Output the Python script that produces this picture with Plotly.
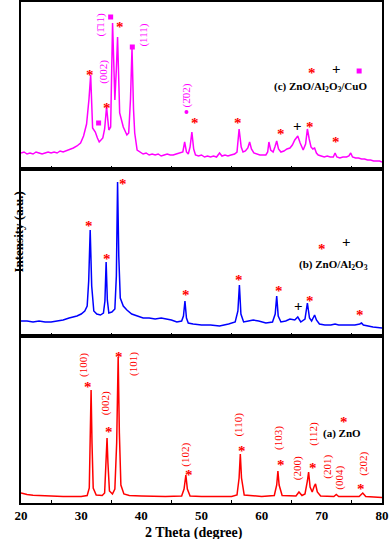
import plotly.graph_objects as go
from plotly.subplots import make_subplots

SERIF = "Liberation Serif, Times New Roman, serif"
RED = "#ff0000"
BLUE = "#0000ff"
PINK = "#ff00ff"

# (c) ZnO/Al2O3/CuO  -- 2theta and intensity (a.u., panel units 0-167)
tt_c = [20.0, 20.5, 21.0, 21.5, 22.0, 22.5, 23.0, 23.5, 24.0, 24.5, 25.0, 25.5, 26.0, 26.5,
        27.0, 27.5, 28.0, 28.7, 29.3, 29.9, 30.4, 30.9, 31.3, 31.58, 31.9, 32.35, 32.7, 33.0,
        33.6, 33.9, 34.22, 34.6, 34.9, 35.05, 35.22, 35.4, 35.6, 35.85, 36.05, 36.4, 37.0, 37.6,
        37.9, 38.2, 38.45, 38.7, 38.9, 39.3, 39.8, 40.3, 40.8, 41.3, 41.8, 42.3, 42.8, 43.3,
        43.8, 44.3, 44.8, 45.3, 45.8, 46.4, 46.9, 47.2, 47.5, 47.8, 48.1, 48.4, 48.7, 49.0,
        49.5, 50.0, 50.5, 51.0, 51.5, 52.0, 52.5, 53.0, 53.4, 53.9, 54.4, 54.9, 55.5, 55.9,
        56.25, 56.6, 56.9, 57.3, 57.7, 58.0, 58.3, 58.7, 59.2, 59.7, 60.2, 60.7, 61.0, 61.2,
        61.5, 61.9, 62.2, 62.5, 62.8, 63.2, 63.7, 64.2, 64.7, 65.1, 65.5, 66.0, 66.4, 66.9,
        67.3, 67.6, 67.9, 68.2, 68.5, 68.8, 69.1, 69.4, 69.9, 70.4, 70.9, 71.4, 71.9, 72.2,
        72.5, 73.0, 73.5, 74.1, 74.5, 74.8, 75.1, 75.6, 76.1, 76.6, 77.1, 77.6, 78.1, 78.6,
        79.1, 79.6, 80.0]
int_c = [16, 17, 15, 16, 15, 17, 16, 15, 16, 17, 16, 17, 16, 18, 17, 18, 19, 21, 23, 26, 33,
         45, 70, 94, 41, 37, 31, 27, 31, 40, 62, 39, 42, 95, 146, 110, 69, 100, 132, 56, 42,
         34, 36, 70, 121, 60, 36, 19, 17, 15, 16, 14, 15, 14, 15, 13, 14, 15, 14, 14, 15, 16,
         17, 27, 17, 15, 22, 37, 20, 14, 13, 14, 12, 13, 12, 13, 12, 16, 13, 14, 13, 14, 15,
         17, 40, 22, 17, 18, 21, 27, 20, 16, 15, 14, 14, 14, 17, 27, 19, 17, 22, 28, 20, 17,
         18, 20, 21, 24, 29, 33, 26, 19, 25, 40, 30, 22, 20, 21, 16, 14, 13, 12, 13, 12, 12,
         16, 12, 11, 12, 12, 13, 16, 12, 11, 11, 10, 10, 9, 9, 8, 8, 8, 7]

# (b) ZnO/Al2O3
tt_b = [20.0, 21.0, 22.0, 23.0, 24.0, 25.0, 26.0, 27.0, 28.0, 29.3, 30.0, 30.6, 31.0, 31.25,
        31.5, 31.75, 32.1, 32.6, 33.2, 33.7, 33.95, 34.15, 34.35, 34.6, 35.1, 35.6, 35.85,
        36.05, 36.25, 36.5, 37.0, 37.6, 38.4, 39.3, 40.3, 41.3, 42.3, 43.3, 44.2, 45.0, 45.9,
        46.7, 47.0, 47.25, 47.5, 47.8, 48.6, 50.0, 51.5, 53.0, 54.5, 55.6, 56.05, 56.3, 56.55,
        57.0, 57.8, 58.6, 59.5, 60.7, 61.8, 62.25, 62.5, 62.75, 63.2, 64.0, 64.7, 65.5, 66.0,
        66.5, 67.2, 67.6, 67.95, 68.3, 68.8, 69.1, 69.6, 70.5, 71.5, 72.2, 72.8, 74.0, 75.5,
        76.3, 76.6, 76.9, 77.5, 78.5, 80.0]
int_b = [15, 15, 14, 15, 14, 14, 15, 16, 18, 20, 22, 25, 30, 55, 106, 50, 25, 22, 21, 23,
         35, 74, 36, 23, 24, 27, 60, 154, 80, 38, 30, 26, 22, 20, 18, 18, 17, 18, 17, 16, 14,
         15, 20, 35, 18, 13, 12, 11, 11, 10, 12, 14, 25, 51, 22, 14, 15, 16, 15, 13, 14, 22,
         40, 20, 14, 15, 17, 16, 19, 14, 17, 33, 18, 15, 21, 16, 12, 11, 11, 12, 11, 11, 11,
         12, 13, 11, 10, 9, 8]

# (a) ZnO
tt_a = [20.0, 21.0, 22.0, 24.0, 27.0, 30.0, 31.0, 31.35, 31.5, 31.65, 31.8, 32.0, 32.5, 33.5,
        33.9, 34.15, 34.3, 34.45, 34.7, 35.2, 35.6, 35.9, 36.15, 36.35, 36.6, 37.1, 38.0, 40.0,
        44.0, 46.7, 47.1, 47.4, 47.65, 48.1, 50.0, 55.0, 55.9, 56.25, 56.45, 56.65, 57.1, 60.0,
        62.1, 62.5, 62.7, 62.9, 63.4, 65.7, 66.2, 66.7, 67.2, 67.6, 67.8, 68.05, 68.4, 68.75,
        68.95, 69.25, 69.8, 72.0, 72.4, 72.8, 76.2, 76.8, 77.3, 80.0]
int_a = [10, 8.5, 7.8, 7, 6.5, 6.5, 7.5, 15, 60, 113, 60, 15, 8, 7.5, 10, 40, 65, 40, 12, 9,
         14, 60, 146, 70, 18, 9, 7.5, 7, 6.5, 7, 14, 28, 14, 7, 6.5, 6.5, 8, 25, 49, 25, 8,
         6.5, 7.5, 18, 32, 18, 7.5, 7, 11, 7.5, 9, 22, 31, 16, 11, 17, 19, 11, 7, 6.5, 8.5,
         6.5, 6.5, 10, 6.5, 5.5]

# peak markers: (2theta, height) per panel
stars_c = [(31.5, 98), (34.3, 65), (36.4, 146), (49.0, 50), (56.1, 50), (63.2, 39), (68.0, 46),
           (72.4, 31), (68.3, 100)]
squares_c = [(32.9, 46), (34.9, 152), (38.5, 122), (76.2, 98)]
plus_c = [(66.0, 43), (72.5, 100)]
dots_c = [(47.5, 57)]
hkl_c = [("(002)", 33.6, 97), ("(1\u030411)", 33.2, 144), ("(111)", 40.2, 134),
         ("(2\u030402)", 47.5, 74)]

stars_b = [(31.3, 114), (34.3, 81), (36.9, 156), (47.5, 45), (56.3, 60), (62.8, 49), (68.0, 39),
           (76.3, 25), (70.0, 91)]
plus_b = [(66.2, 30), (74.1, 94)]

stars_a = [(31.2, 120), (34.6, 75), (36.3, 150), (48.0, 32), (56.8, 56), (63.2, 42), (68.5, 39),
           (76.5, 18), (73.7, 85)]
hkl_a = [("(100)", 30.3, 138), ("(002)", 34.0, 100), ("(101)", 38.6, 139), ("(102)", 47.2, 48),
         ("(110)", 56.0, 78), ("(103)", 62.7, 65), ("(200)", 65.9, 35), ("(112)", 68.5, 69),
         ("(201)", 70.8, 36), ("(004)", 72.8, 25), ("(202)", 76.8, 39)]

labels = [("(c) ZnO/Al<sub>2</sub>O<sub>3</sub>/CuO", 69.7, 82, 1),
          ("(b) ZnO/Al<sub>2</sub>O<sub>3</sub>", 71.9, 71, 2),
          ("(a) ZnO", 73.3, 70, 3)]

fig = make_subplots(rows=3, cols=1, shared_xaxes=True, vertical_spacing=0)

for row, tt, inten, col in [(1, tt_c, int_c, PINK), (2, tt_b, int_b, BLUE), (3, tt_a, int_a, RED)]:
    fig.add_trace(go.Scatter(x=tt, y=inten, mode="lines", line=dict(color=col, width=1.5),
                             showlegend=False, hoverinfo="skip"), row=row, col=1)


def ref(row):
    return ("x", "y") if row == 1 else (f"x{row}", f"y{row}")


def add_stars(points, row):
    xr, yr = ref(row)
    for x, y in points:
        fig.add_annotation(x=x, y=y, xref=xr, yref=yr, text="<b>*</b>", showarrow=False,
                           font=dict(family=SERIF, size=15, color=RED), yshift=-4)


def add_plus(points, row):
    xr, yr = ref(row)
    for x, y in points:
        fig.add_annotation(x=x, y=y, xref=xr, yref=yr, text="<b>+</b>", showarrow=False,
                           font=dict(family=SERIF, size=15, color="black"))


def add_hkl(items, row, color):
    xr, yr = ref(row)
    for t, x, y in items:
        fig.add_annotation(x=x, y=y, xref=xr, yref=yr, text=t, showarrow=False, textangle=-90,
                           font=dict(family=SERIF, size=11, color=color))


add_stars(stars_c, 1)
add_stars(stars_b, 2)
add_stars(stars_a, 3)
add_plus(plus_c, 1)
add_plus(plus_b, 2)
add_hkl(hkl_c, 1, PINK)
add_hkl(hkl_a, 3, RED)

fig.add_trace(go.Scatter(x=[p[0] for p in squares_c], y=[p[1] for p in squares_c], mode="markers",
                         marker=dict(symbol="square", size=5, color=PINK), showlegend=False,
                         hoverinfo="skip"), row=1, col=1)
fig.add_trace(go.Scatter(x=[p[0] for p in dots_c], y=[p[1] for p in dots_c], mode="markers",
                         marker=dict(symbol="circle", size=4, color=PINK), showlegend=False,
                         hoverinfo="skip"), row=1, col=1)

for t, x, y, row in labels:
    xr, yr = ref(row)
    fig.add_annotation(x=x, y=y, xref=xr, yref=yr, text=f"<b>{t}</b>", showarrow=False,
                       font=dict(family=SERIF, size=11, color="black"))

axis_common = dict(showline=True, mirror=True, linecolor="black", linewidth=1.5,
                   showgrid=False, zeroline=False)
for row in (1, 2, 3):
    fig.update_xaxes(range=[20, 80], dtick=10, ticks="", ticklen=0,
                     minor=dict(ticks="inside", tick0=25, dtick=10, ticklen=3,
                                tickcolor="black"),
                     showticklabels=(row == 3),
                     tickfont=dict(family=SERIF, size=13, color="black", weight="bold"),
                     row=row, col=1, **axis_common)
    fig.update_yaxes(range=[0, 167], showticklabels=False, ticks="", row=row, col=1,
                     **axis_common)

fig.add_annotation(x=0.48, y=-0.04, xref="paper", yref="paper", yanchor="top",
                   text="<b>2 Theta (degree)</b>", showarrow=False,
                   font=dict(family=SERIF, size=14, color="black"))
fig.add_annotation(x=-0.033, y=0.541, xref="paper", yref="paper", textangle=-90,
                   text="<b>Intensity (a.u.)</b>", showarrow=False,
                   font=dict(family=SERIF, size=13, color="black"))

fig.update_layout(width=390, height=539,
                  margin=dict(l=21, r=8, t=2, b=36, autoexpand=False),
                  paper_bgcolor="white", plot_bgcolor="white")

# drop the browser's default page margin so the figure sits at the window origin
fig.write_html("out.html", config={"displayModeBar": False},
               post_script="document.body.style.margin='0';")
